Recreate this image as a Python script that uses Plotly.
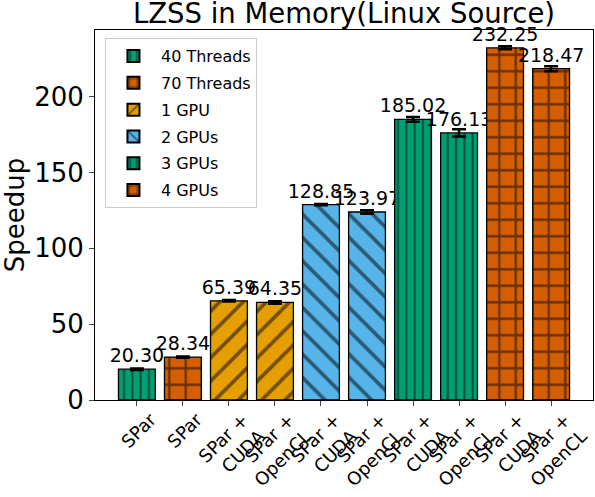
import plotly.graph_objects as go

categories = ["SPar", "SPar", "SPar +<br>CUDA", "SPar +<br>OpenCL", "SPar +<br>CUDA",
              "SPar +<br>OpenCL", "SPar +<br>CUDA", "SPar +<br>OpenCL", "SPar +<br>CUDA", "SPar +<br>OpenCL"]
speedup = [20.30, 28.34, 65.39, 64.35, 128.85, 123.97, 185.02, 176.13, 232.25, 218.47]
errors = [0.5, 0.4, 0.5, 0.8, 0.4, 1.2, 1.6, 2.4, 1.0, 1.6]
groups = ["40 Threads", "70 Threads", "1 GPU", "2 GPUs", "3 GPUs", "4 GPUs"]
group_idx = [[0], [1], [2, 3], [4, 5], [6, 7], [8, 9]]
colors = ["#009E73", "#D55E00", "#E69F00", "#56B4E9", "#009E73", "#D55E00"]
hatches = ["|", "+", "/", "\\", "|", "+"]
hsize = [8.3, 16.5, 16.5, 16.5, 8.3, 16.5]
hsolid = [0.24, 0.26, 0.22, 0.22, 0.24, 0.26]

x = list(range(len(categories)))
fig = go.Figure()
for g, idx, c, h, s, so in zip(groups, group_idx, colors, hatches, hsize, hsolid):
    fig.add_trace(go.Bar(
        x=[x[i] for i in idx], y=[speedup[i] for i in idx], name=g, legendgroup=g,
        width=0.8,
        marker=dict(color=c, line=dict(color="black", width=1.3),
                    pattern=dict(shape=h, fgcolor="black", bgcolor=c, size=s, solidity=so,
                                 fillmode="overlay")),
        error_y=dict(type="data", array=[errors[i] for i in idx], color="black", thickness=2.5, width=7),
        text=[f"{speedup[i]:.2f}" for i in idx], textposition="outside", constraintext="none",
        textfont=dict(size=19, color="black"), cliponaxis=False,
    ))

fig.update_layout(
    width=595, height=497,
    margin=dict(l=95, r=2, t=30, b=97, autoexpand=False),
    paper_bgcolor="white", plot_bgcolor="white",
    font=dict(family="DejaVu Sans", color="black"),
    title=dict(text="LZSS in Memory(Linux Source)", x=0.5, xref="paper", xanchor="center",
               y=0.992, yref="container", yanchor="top", pad=dict(t=0, b=0),
               font=dict(size=27.5)),
    showlegend=True,
    legend=dict(x=0.02, y=0.978, xanchor="left", yanchor="top", font=dict(size=16),
                bordercolor="#cccccc", borderwidth=1, bgcolor="rgba(255,255,255,0.8)",
                itemsizing="constant", tracegroupgap=3, itemwidth=45),
    bargap=0.2,
)
fig.update_xaxes(range=[-0.91, 9.91], tickmode="array", tickvals=x, ticktext=categories,
                 tickangle=-45, tickfont=dict(size=18), showline=True, linecolor="black", linewidth=1,
                 mirror=True, ticks="outside", ticklen=5, showgrid=False, automargin=False,
                 ticklabelshift=14, ticklabelstandoff=-4)
fig.update_yaxes(range=[0, 244], tickvals=[0, 50, 100, 150, 200], tickfont=dict(size=26),
                 title=dict(text="Speedup", font=dict(size=26), standoff=2),
                 showline=True, linecolor="black", linewidth=1, mirror=True, ticks="outside",
                 ticklen=5, showgrid=False, zeroline=False, automargin=False)

fig.write_html("out.html", config={"displayModeBar": False},
               post_script="document.body.style.margin='0';")
